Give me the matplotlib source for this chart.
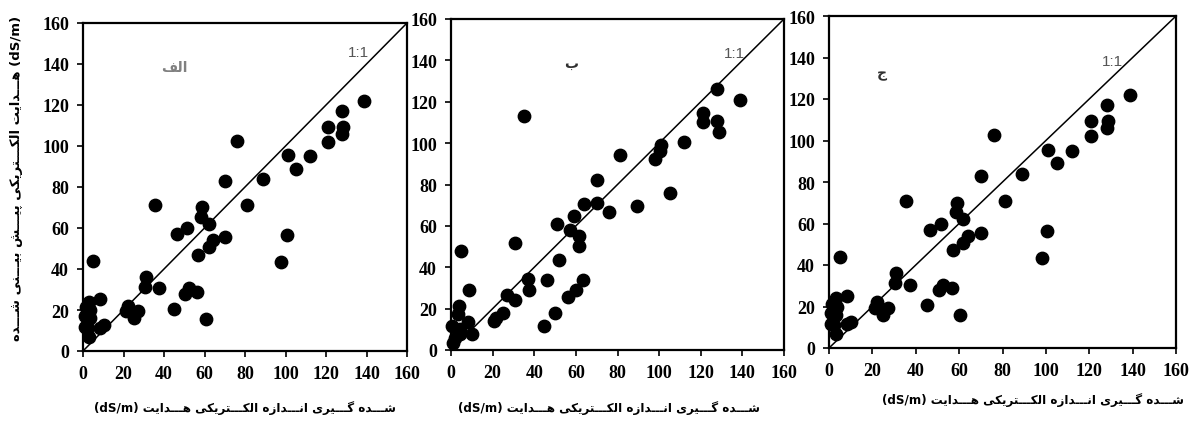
import matplotlib
matplotlib.use("Agg")
import matplotlib.pyplot as plt

# panel "الف" : measured vs predicted EC (dS/m)
a_x = [139, 128, 128.5, 128, 121, 121, 112, 101, 105, 89, 70, 76, 81, 35.6, 59,
       58.5, 62, 51.5, 46.5, 70, 64, 62, 57, 100.5, 98, 5, 31, 30.5, 37.5, 50.5,
       52.5, 56.5, 45, 60.5, 8.5, 22, 21, 25, 27, 3, 1.3, 3.5, 0.8, 3.3, 0.8,
       2.5, 3, 8.3, 10.3]
a_y = [122, 117, 109.5, 106, 109.5, 102, 95, 95.5, 89, 84, 83, 102.5, 71, 71, 70,
       65.5, 62, 60, 57, 55.5, 54, 50.5, 47, 56.5, 43.5, 44, 36.3, 31.2, 30.5, 28,
       30.5, 28.7, 20.5, 15.8, 25.2, 22, 19.5, 16, 19.3, 24, 21.4, 20, 17, 16, 11.7,
       11.2, 6.8, 11.4, 12.5]

# panel "ب"
b_x = [139, 128, 128, 129, 121, 121, 112, 101, 100.5, 98, 81, 105, 89.5, 70, 70,
       75.8, 64, 35, 59.3, 51, 57, 61.7, 61.7, 30.7, 5, 51.8, 36.8, 37.5, 46.3,
       63.5, 60, 56, 50.2, 44.8, 26.8, 30.8, 20.7, 21.8, 24.9, 8.5, 8.1, 10.1,
       3.7, 3.2, 0.5, 4.5, 2.1, 1, 4.2]
b_y = [121, 126, 110.5, 105.5, 114.5, 110, 100.5, 99, 96, 92.5, 94.3, 76, 69.5, 82,
       71, 66.7, 70.5, 113, 64.7, 60.7, 58, 55.3, 50.5, 51.6, 47.7, 43.3, 34.2,
       29.2, 33.7, 34, 29.2, 25.7, 18, 11.6, 26.5, 24.3, 14, 15.7, 17.7, 29.2,
       13.5, 7.5, 21.3, 17.3, 11.6, 10, 6, 3.5, 7.6]

# panel "ج" shows the same points as "الف"
c_x = list(a_x)
c_y = list(a_y)

ticks = [0, 20, 40, 60, 80, 100, 120, 140, 160]
x_words = ["هـــدایت", "الکـــتریکی", "انـــدازه", "گـــیری", "شـــده"]
y_words = ["هـــدایت", "الکـــتریکی", "پیـــش", "بیـــنی", "شـــده"]
panel_names = ["الف", "ب", "ج"]

# matplotlib has no arabic shaping, so pick presentation forms by hand
FORMS = {
    'ا': ('\uFE8D', '\uFE8E', None, None),
    'ب': ('\uFE8F', '\uFE90', '\uFE91', '\uFE92'),
    'پ': ('\uFB56', '\uFB57', '\uFB58', '\uFB59'),
    'ت': ('\uFE95', '\uFE96', '\uFE97', '\uFE98'),
    'ج': ('\uFE9D', '\uFE9E', '\uFE9F', '\uFEA0'),
    'د': ('\uFEA9', '\uFEAA', None, None),
    'ر': ('\uFEAD', '\uFEAE', None, None),
    'ز': ('\uFEAF', '\uFEB0', None, None),
    'ش': ('\uFEB5', '\uFEB6', '\uFEB7', '\uFEB8'),
    'ف': ('\uFED1', '\uFED2', '\uFED3', '\uFED4'),
    'ک': ('\uFB8E', '\uFB8F', '\uFB90', '\uFB91'),
    'گ': ('\uFB92', '\uFB93', '\uFB94', '\uFB95'),
    'ل': ('\uFEDD', '\uFEDE', '\uFEDF', '\uFEE0'),
    'ن': ('\uFEE5', '\uFEE6', '\uFEE7', '\uFEE8'),
    'ه': ('\uFEE9', '\uFEEA', '\uFEEB', '\uFEEC'),
    'ی': ('\uFBFC', '\uFBFD', '\uFBFE', '\uFBFF'),
    'ـ': ('\u0640', '\u0640', '\u0640', '\u0640'),
}


def shape(word):
    out = []
    for i, ch in enumerate(word):
        f = FORMS.get(ch)
        if f is None:
            out.append(ch)
            continue
        prev = word[i - 1] if i > 0 else None
        nxt = word[i + 1] if i < len(word) - 1 else None
        jp = prev in FORMS and FORMS[prev][2] is not None
        jn = f[2] is not None and nxt in FORMS
        if jp and jn:
            out.append(f[3])
        elif jp:
            out.append(f[1])
        elif jn:
            out.append(f[2])
        else:
            out.append(f[0])
    return ''.join(reversed(out))


xlabel = "(dS/m) " + " ".join(shape(w) for w in x_words)
ylabel = " ".join(shape(w) for w in reversed(y_words)) + " (dS/m)"

plt.rcParams['font.family'] = ['Liberation Serif', 'DejaVu Sans']
plt.rcParams['font.weight'] = 'bold'

fig = plt.figure(figsize=(11.94, 4.27), dpi=100)

W, H = 1194, 427
# axes boxes in pixels: left, top, right, bottom
boxes = [(83, 24, 407, 352), (451, 20, 784, 351), (829, 17, 1176, 349)]
data = [(a_x, a_y), (b_x, b_y), (c_x, c_y)]
name_pos = [(45, 138.5), (57.5, 139), (24.3, 132.5)]
name_col = ['#808080', '#303030', '#303030']
one_pos = [(136, 145.7), (136, 143.5), (130.5, 138.5)]
xlab_pos = [(245, 408), (609, 408), (1033, 400)]

for i in range(3):
    l, t, r, b = boxes[i]
    ax = fig.add_axes([l / W, 1 - b / H, (r - l) / W, (b - t) / H])
    xs, ys = data[i]
    ax.plot([0, 160], [0, 160], color='black', lw=1.1, zorder=2)
    ax.scatter(xs, ys, s=80, color='black', zorder=3, clip_on=False)
    ax.set_xlim(0, 160)
    ax.set_ylim(0, 160)
    ax.set_xticks(ticks)
    ax.set_yticks(ticks)
    ax.tick_params(direction='out', length=4, width=1.2, labelsize=13, pad=6)
    for sp in ax.spines.values():
        sp.set_linewidth(1.6)
    nx, ny = name_pos[i]
    ax.text(nx, ny, shape(panel_names[i]), family=['DejaVu Sans'], fontsize=10,
            color=name_col[i], ha='center', va='center')
    ox, oy = one_pos[i]
    ax.text(ox, oy, "1:1", family=['Liberation Sans'], fontsize=11,
            color='#555555', ha='center', va='center', fontweight='normal')
    lx, ly = xlab_pos[i]
    fig.text(lx / W, 1 - ly / H, xlabel, family=['DejaVu Sans'], fontsize=8.6,
             ha='center', va='center')

fig.text(17 / W, 1 - 178 / H, ylabel, family=['DejaVu Sans'], fontsize=9.5,
         rotation=90, ha='center', va='center')

fig.savefig("out.png", dpi=100, facecolor='white')
